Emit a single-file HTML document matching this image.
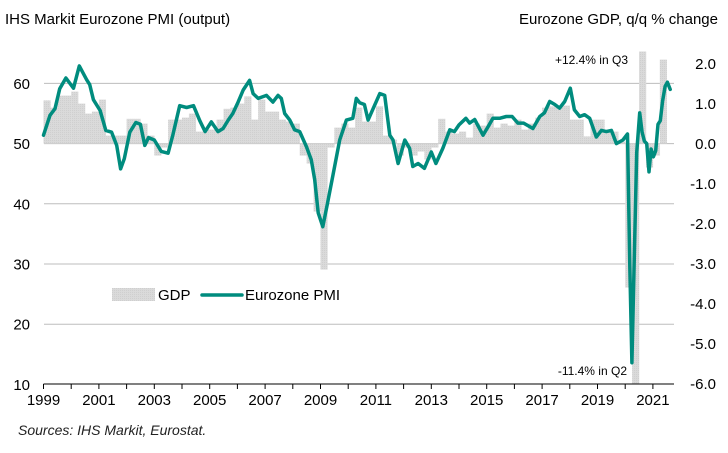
<!DOCTYPE html>
<html><head><meta charset="utf-8"><style>
html,body{margin:0;padding:0;background:#fff;width:728px;height:453px;overflow:hidden;}
svg{display:block;font-family:"Liberation Sans",Arial,sans-serif;}
</style></head><body>
<svg id="chart" width="728" height="453" viewBox="0 0 728 453" xmlns="http://www.w3.org/2000/svg">
<defs>
<pattern id="stip" width="2" height="2" patternUnits="userSpaceOnUse"><rect width="2" height="2" fill="#dadada"/><rect width="1" height="1" fill="#cfcfcf"/></pattern>
</defs>
<text x="5" y="24" font-size="15" fill="#000">IHS Markit Eurozone PMI (output)</text>
<text x="718" y="24" font-size="15" text-anchor="end" fill="#000">Eurozone GDP, q/q % change</text>
<g id="grid"></g>
<g id="bars"></g>
<g id="line"></g>
<g id="axes"></g>
<text x="628" y="64" font-size="12" text-anchor="end">+12.4% in Q3</text>
<text x="627" y="375" font-size="12" text-anchor="end">-11.4% in Q2</text>
<g>
<rect x="112" y="288" width="43" height="13" fill="url(#stip)"/>
<text x="158" y="300" font-size="15">GDP</text>
<line x1="202" y1="295" x2="242" y2="295" stroke="#008C7E" stroke-width="3.5" stroke-linecap="round"/>
<text x="245" y="300" font-size="15">Eurozone PMI</text>
</g>
<text x="18" y="435" font-size="14" font-style="italic" fill="#222">Sources: IHS Markit, Eurostat.</text>
</svg>
<script>
const gdpValues=[1.08,0.9,1.2,1.2, 1.3,1.0,0.75,0.8, 1.1,0.2,0.2,0.2, 0.62,0.62,0.5,0.2,
-0.3,-0.1,0.6,0.6, 0.65,0.75,0.3,0.35, 0.35,0.6,0.87,0.9, 1.0,1.18,0.6,1.1,
0.8,0.8,0.6,0.55, 0.5,-0.3,-0.5,-1.7, -3.15,-0.1,0.4,0.5, 0.4,0.9,0.55,0.55,
0.93,0.2,0.1,-0.3, -0.1,-0.3,-0.2,-0.4, -0.1,0.62,0.3,0.25, 0.3,0.15,0.5,0.45,
0.75,0.4,0.5,0.45, 0.6,0.35,0.5,0.65, 0.9,0.93,0.95,0.95, 0.6,0.6,0.18,0.6,
0.6,0.3,0.3,0.05, -3.6,-11.4,12.4,-0.6, -0.3,2.1];
const pmiMonths=[0,2.8,5,7,9.7,13,15.5,18.7,20,21.6,24.5,27,29.5,31.7,33.4,35,37.4,40,42,43.9,45.5,48,51,54,56,59,62,65,67.7,70,72.7,75.6,77.8,80,82,84.3,86.5,89.3,90.8,93,96.6,99.4,101.6,103,104.5,106.7,108.8,111,113.9,116,117.5,119,121,123,125.4,128.3,131.2,134,135.5,137,139,140.6,142.8,145.7,147.8,150,151.4,153.6,156.5,158.6,160,162.3,165,168,170,173,176,178,180,183,184.6,186.8,190.4,192.6,194.7,197.6,200.5,203,205.5,208,212,215,217,219.3,221.5,223.6,225.8,228.2,230,232.3,234.4,236.6,239.5,241.7,243.8,246,248.2,251,253,254,254.9,256,257,258.3,259.3,260.3,261.3,262.3,263.2,264.2,265.2,266.2,267.2,268.2,269.3,270.3,271.5];
const pmiValues=[51.4,54.7,55.8,59.1,60.9,59.2,62.9,60.6,59.8,57.3,55.5,52.2,51.9,49.7,45.8,47.5,51.9,53.5,53.2,49.7,51,50.6,48.7,48.4,51.4,56.3,56,56.3,53.8,52.0,53.6,52,52.5,53.9,55,56.9,58.9,60.5,58.3,57.5,58,56.9,58,57.5,55,53.9,52.3,52,49.5,47.3,44,38.5,36.2,40,44.8,50.6,53.9,54.2,57.5,56.8,56.5,53.9,55.8,58.3,58,51.4,50.6,46.7,50.6,49.2,46.2,46.7,45.9,48.6,46.7,49.2,52.3,52,53.1,54.2,53.4,54,51.4,52.8,54.2,54.2,54.5,54.5,53.4,53.4,52.5,54.5,55.1,57,56.5,55.9,57,59.2,55.6,54.5,54.8,54.2,51.1,52.2,52,52.2,50,50.6,51.6,29.7,13.6,31.9,48.5,55.1,51.9,50.4,50.0,45.3,49.1,47.8,48.8,53.2,53.8,57.1,59.5,60.2,59.0];
const leftTicks=[10,20,30,40,50,60];
const rightTicks=[2,1,0,-1,-2,-3,-4,-5,-6];
const yearLabels=[1999,2001,2003,2005,2007,2009,2011,2013,2015,2017,2019,2021];

const NS='http://www.w3.org/2000/svg';
const X0=43.5, PERYEAR=27.7;
const PLOT_TOP=51.5, PLOT_BOTTOM=384;
const xMonth=m=>X0+m*PERYEAR/12;
const xYear=y=>X0+(y-1999)*PERYEAR;
const yL=v=>143.6-(v-50)*6.02;
const yR=g=>143.6-g*40;
function mk(tag,parent,attrs){const e=document.createElementNS(NS,tag);for(const k in attrs)e.setAttribute(k,attrs[k]);parent.appendChild(e);return e;}

const grid=document.getElementById('grid');
leftTicks.forEach(t=>{
  if(t>10){const l=mk('line',grid,{x1:44,x2:674,y1:yL(t),y2:yL(t),stroke:'#bdbdbd','stroke-width':1});
  
  }
});
const bars=document.getElementById('bars');
const qw=PERYEAR/4;
gdpValues.forEach((g,i)=>{
  const x=X0+i*qw;
  const y0=yR(0);
  const y1=Math.max(PLOT_TOP,Math.min(PLOT_BOTTOM,yR(g)));
  const r=mk('rect',bars,{x:x,y:Math.min(y0,y1),width:qw+0.2,height:Math.abs(y1-y0),fill:'url(#stip)'});
  
  
});
const lg=document.getElementById('line');
const pts=pmiMonths.map((m,i)=>xMonth(m).toFixed(1)+','+yL(pmiValues[i]).toFixed(1)).join(' ');
const pl=mk('polyline',lg,{points:pts,fill:'none',stroke:'#008C7E','stroke-width':3.5,'stroke-linejoin':'round','stroke-linecap':'round'});



const ax=document.getElementById('axes');
const xa=mk('line',ax,{x1:43.5,x2:674,y1:384,y2:384,stroke:'#000','stroke-width':1});


for(let y=1999;y<=2021;y++){
  const t=mk('line',ax,{x1:xYear(y),x2:xYear(y),y1:384,y2:389,stroke:'#000','stroke-width':1});
  
  
}
yearLabels.forEach(y=>{
  const t=mk('text',ax,{x:xYear(y),y:405,'font-size':15,'text-anchor':'middle'});
  t.textContent=y;
  
  
});
leftTicks.forEach(v=>{
  const t=mk('text',ax,{x:30,y:yL(v)+5.5,'font-size':15,'text-anchor':'end'});
  t.textContent=v;
  
  
});
rightTicks.forEach(g=>{
  const t=mk('text',ax,{x:716,y:yR(g)+5.5,'font-size':15,'text-anchor':'end'});
  t.textContent=g.toFixed(1);
  
  
});
</script>
</body></html>
